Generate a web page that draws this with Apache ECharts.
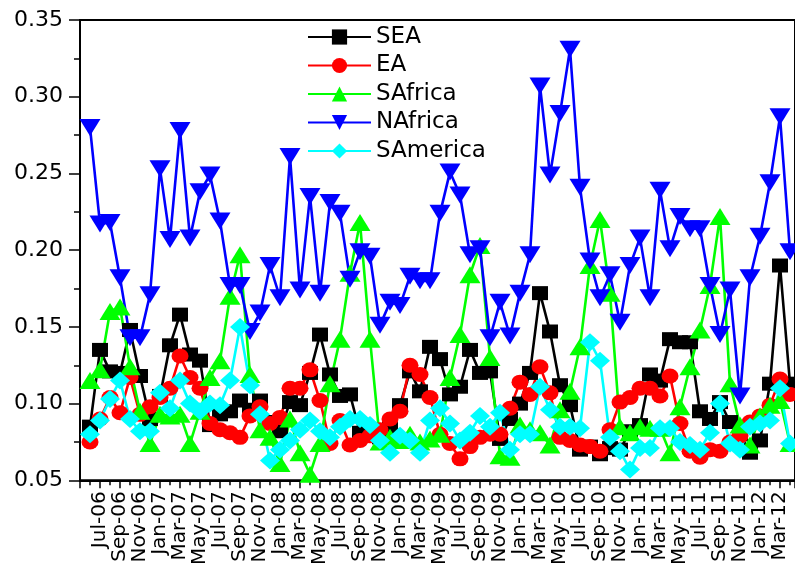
<!DOCTYPE html>
<html>
<head>
<meta charset="utf-8">
<script src="https://cdn.jsdelivr.net/npm/echarts@6/dist/echarts.min.js"></script>
<style>
  html, body { margin: 0; padding: 0; background: #fff; }
  #chart { width: 795px; height: 568px; }
</style>
</head>
<body>
<div id="chart"></div>
<script>
// Monthly categories (Jun-06 .. Apr-12)
var months = [
  'Jun-06','Jul-06','Aug-06','Sep-06','Oct-06','Nov-06','Dec-06',
  'Jan-07','Feb-07','Mar-07','Apr-07','May-07','Jun-07','Jul-07','Aug-07','Sep-07','Oct-07','Nov-07','Dec-07',
  'Jan-08','Feb-08','Mar-08','Apr-08','May-08','Jun-08','Jul-08','Aug-08','Sep-08','Oct-08','Nov-08','Dec-08',
  'Jan-09','Feb-09','Mar-09','Apr-09','May-09','Jun-09','Jul-09','Aug-09','Sep-09','Oct-09','Nov-09','Dec-09',
  'Jan-10','Feb-10','Mar-10','Apr-10','May-10','Jun-10','Jul-10','Aug-10','Sep-10','Oct-10','Nov-10','Dec-10',
  'Jan-11','Feb-11','Mar-11','Apr-11','May-11','Jun-11','Jul-11','Aug-11','Sep-11','Oct-11','Nov-11','Dec-11',
  'Jan-12','Feb-12','Mar-12','Apr-12'
];

var seriesNames = ['SEA', 'EA', 'SAfrica', 'NAfrica', 'SAmerica'];

var SEA = [
  0.085, 0.135, 0.121, 0.120, 0.148, 0.118, 0.090, 0.105, 0.138, 0.158, 0.132, 0.128,
  0.086, 0.093, 0.095, 0.102, 0.096, 0.102, 0.088, 0.082, 0.101, 0.099, 0.120, 0.145,
  0.119, 0.105, 0.106, 0.081, 0.080, 0.078, 0.084, 0.099, 0.121, 0.108, 0.137, 0.129,
  0.106, 0.111, 0.135, 0.120, 0.121, 0.077, 0.090, 0.100, 0.120, 0.172, 0.147, 0.112,
  0.099, 0.070, 0.072, 0.067, 0.071, 0.070, 0.082, 0.086, 0.119, 0.115, 0.142, 0.140,
  0.140, 0.095, 0.090, 0.101, 0.088, 0.080, 0.068, 0.076, 0.113, 0.190, 0.113
];
var EA = [
  0.075, 0.090, 0.104, 0.094, 0.117, 0.093, 0.098, 0.104, 0.110, 0.131, 0.117, 0.110,
  0.087, 0.083, 0.081, 0.078, 0.092, 0.098, 0.087, 0.091, 0.110, 0.110, 0.122, 0.102,
  0.074, 0.089, 0.073, 0.076, 0.079, 0.083, 0.090, 0.095, 0.125, 0.119, 0.104, 0.080,
  0.074, 0.064, 0.072, 0.078, 0.080, 0.080, 0.097, 0.114, 0.106, 0.124, 0.107, 0.078,
  0.076, 0.073, 0.072, 0.069, 0.083, 0.101, 0.104, 0.110, 0.110, 0.105, 0.118, 0.087,
  0.069, 0.065, 0.070, 0.069, 0.075, 0.079, 0.088, 0.092, 0.099, 0.116, 0.106
];
var SAfrica = [
  0.115, 0.122, 0.160, 0.163, 0.124, 0.095, 0.074, 0.093, 0.092, 0.093, 0.074, 0.095,
  0.117, 0.128, 0.170, 0.197, 0.119, 0.083, 0.078, 0.061, 0.090, 0.068, 0.054, 0.074,
  0.113, 0.142, 0.185, 0.218, 0.142, 0.075, 0.078, 0.076, 0.080, 0.075, 0.077, 0.080,
  0.117, 0.145, 0.184, 0.203, 0.130, 0.066, 0.065, 0.086, 0.083, 0.081, 0.073, 0.096,
  0.108, 0.137, 0.190, 0.220, 0.172, 0.085, 0.081, 0.085, 0.084, 0.084, 0.068, 0.098,
  0.124, 0.148, 0.177, 0.222, 0.113, 0.086, 0.073, 0.092, 0.099, 0.102, 0.074
];
var NAfrica = [
  0.280, 0.217, 0.218, 0.182, 0.143, 0.143, 0.171, 0.253, 0.207, 0.278, 0.208, 0.238,
  0.249, 0.219, 0.177, 0.177, 0.147, 0.159, 0.190, 0.169, 0.261, 0.174, 0.235, 0.172,
  0.231, 0.224, 0.181, 0.199, 0.196, 0.151, 0.166, 0.164, 0.183, 0.180, 0.180, 0.224,
  0.251, 0.236, 0.197, 0.201, 0.143, 0.166, 0.144, 0.172, 0.197, 0.307, 0.249, 0.289,
  0.331, 0.241, 0.193, 0.169, 0.184, 0.153, 0.190, 0.208, 0.169, 0.239, 0.201, 0.222,
  0.214, 0.214, 0.177, 0.145, 0.174, 0.105, 0.182, 0.209, 0.244, 0.287, 0.199
];
var SAmerica = [
  0.080, 0.089, 0.103, 0.115, 0.090, 0.082, 0.082, 0.107, 0.097, 0.115, 0.100, 0.095,
  0.100, 0.099, 0.115, 0.150, 0.112, 0.093, 0.063, 0.070, 0.076, 0.083, 0.089, 0.082,
  0.078, 0.085, 0.090, 0.090, 0.086, 0.076, 0.068, 0.079, 0.076, 0.068, 0.089, 0.097,
  0.087, 0.076, 0.081, 0.092, 0.085, 0.094, 0.070, 0.080, 0.080, 0.111, 0.096, 0.085,
  0.085, 0.084, 0.140, 0.128, 0.078, 0.069, 0.057, 0.071, 0.071, 0.084, 0.084, 0.075,
  0.073, 0.070, 0.081, 0.100, 0.074, 0.070, 0.085, 0.087, 0.089, 0.110, 0.074
];

var yTicks = [0.05, 0.10, 0.15, 0.20, 0.25, 0.30, 0.35];

var FONT = 'DejaVu Sans';

var styles = [
  { color: '#000000', symbol: 'rect', size: [16, 14] },
  { color: '#FF0000', symbol: 'circle', size: [17, 15] },
  { color: '#00FF00', symbol: 'triangle', size: [21, 17] },
  { color: '#0000FF', symbol: 'path://M0,0 L20,0 L10,16 Z', size: [21, 17] },
  { color: '#00FFFF', symbol: 'diamond', size: [20, 18] }
];
var values = [SEA, EA, SAfrica, NAfrica, SAmerica];

function toPairs(arr) {
  return arr.map(function (v, i) { return [i + 1, v]; });
}

var series = seriesNames.map(function (name, k) {
  var st = styles[k];
  return {
    name: name,
    type: 'line',
    data: toPairs(values[k]),
    symbol: st.symbol,
    symbolSize: st.size,
    showAllSymbol: true,
    clip: false,
    animation: false,
    lineStyle: { color: st.color, width: 2.6 },
    itemStyle: { color: st.color, borderWidth: 0 },
    emphasis: { disabled: true }
  };
});

var chart = echarts.init(document.getElementById('chart'), null, { renderer: 'canvas' });
chart.setOption({
  animation: false,
  backgroundColor: '#ffffff',
  textStyle: { fontFamily: FONT },
  grid: {
    left: 80, top: 20, right: 0, bottom: 78,
    show: true, borderColor: '#000', borderWidth: 2, backgroundColor: 'transparent'
  },
  legend: {
    orient: 'vertical',
    left: 307, top: 25,
    padding: 0,
    itemWidth: 63,
    itemHeight: 19,
    itemGap: 4.5,
    data: seriesNames,
    textStyle: { fontFamily: FONT, fontSize: 23, color: '#000', lineHeight: 24 }
  },
  xAxis: {
    type: 'value',
    min: 0,
    max: 71.5,
    interval: 2,
    splitLine: { show: false },
    axisLine: { show: true, onZero: false, lineStyle: { color: '#000', width: 2 } },
    axisTick: { show: true, inside: false, length: 8, lineStyle: { color: '#000', width: 1.5 } },
    minorTick: { show: true, splitNumber: 2, length: 5, lineStyle: { color: '#000', width: 1.5 } },
    minorSplitLine: { show: false },
    axisLabel: {
      rotate: 90,
      margin: 11,
      fontFamily: FONT,
      fontSize: 20,
      color: '#000',
      showMinLabel: true,
      showMaxLabel: true,
      formatter: function (v) {
        if (Math.abs(v - Math.round(v)) > 1e-6) return '';
        var i = Math.round(v);
        return (i >= 1 && i <= months.length) ? months[i - 1] : '';
      }
    }
  },
  yAxis: {
    type: 'value',
    min: yTicks[0],
    max: yTicks[yTicks.length - 1],
    interval: 0.05,
    splitLine: { show: false },
    axisLine: { show: true, onZero: false, lineStyle: { color: '#000', width: 2 } },
    axisTick: { show: true, inside: false, length: 11, lineStyle: { color: '#000', width: 1.5 } },
    minorTick: { show: true, splitNumber: 2, length: 6, lineStyle: { color: '#000', width: 1.5 } },
    minorSplitLine: { show: false },
    axisLabel: {
      margin: 17,
      fontFamily: FONT,
      fontSize: 22,
      color: '#000',
      formatter: function (v) { return v.toFixed(2); }
    }
  },
  series: series
});
</script>
</body>
</html>
